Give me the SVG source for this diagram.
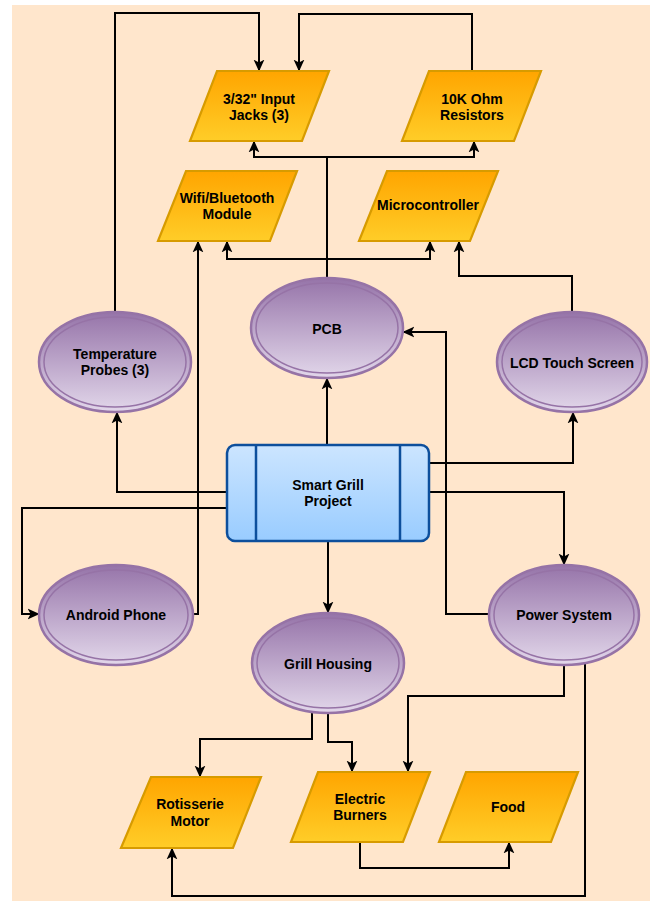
<svg xmlns="http://www.w3.org/2000/svg" width="650" height="901" viewBox="0 0 650 901">
<defs>
<linearGradient id="gOrange" x1="0" y1="0" x2="0" y2="1"><stop offset="0" stop-color="#ffa500"/><stop offset="1" stop-color="#ffcd28"/></linearGradient>
<linearGradient id="gPurple" x1="0" y1="0" x2="0" y2="1"><stop offset="0" stop-color="#9674a9"/><stop offset="1" stop-color="#e2d7ea"/></linearGradient>
<linearGradient id="gBlue" x1="0" y1="0" x2="0" y2="1"><stop offset="0" stop-color="#cce5ff"/><stop offset="1" stop-color="#99ccff"/></linearGradient>
<marker id="arr" viewBox="0 0 10 10" refX="9.5" refY="5" markerWidth="12" markerHeight="12" markerUnits="userSpaceOnUse" orient="auto"><path d="M0,0.5 L10,5 L0,9.5 L2.5,5 Z" fill="#000"/></marker>
</defs>
<style>
.para{fill:url(#gOrange);stroke:#d79b00;stroke-width:2.2}
.ell{fill:url(#gPurple);stroke:#9673a6;stroke-width:2.5}
.ein{fill:none;stroke:#9673a6;stroke-width:1.5}
.proc{fill:url(#gBlue);stroke:#0d4f9c;stroke-width:2.5}
.pl{stroke:#0d4f9c;stroke-width:2.5}
.t{font-family:"Liberation Sans",Arial,sans-serif;font-weight:bold;font-size:14px;fill:#000;text-anchor:middle;dominant-baseline:central}
.c{fill:none;stroke:#000;stroke-width:2;marker-end:url(#arr)}
</style>
<rect x="0" y="0" width="650" height="901" fill="#ffffff"/>
<rect x="12" y="5" width="638" height="896" fill="#ffe6cc"/>
<g id="connectors">
<path class="c" d="M115,312 V13 H259 V71"/>
<path class="c" d="M472,71 V14 H299 V71"/>
<path class="c" d="M327,278 V157 H254 V141"/>
<path class="c" d="M327,157 H474 V141"/>
<path class="c" d="M327,259 H227 V241"/>
<path class="c" d="M327,259 H430 V241"/>
<path class="c" d="M572,312 V276 H459 V241"/>
<path class="c" d="M192,614 H198 V241"/>
<path class="c" d="M327,445 V378"/>
<path class="c" d="M227,492 H117 V412"/>
<path class="c" d="M227,508 H22 V614 H39"/>
<path class="c" d="M429,463 H573 V412"/>
<path class="c" d="M429,492 H564 V565"/>
<path class="c" d="M489,614 H446 V332 H403"/>
<path class="c" d="M328,541 V613"/>
<path class="c" d="M312,712 V739 H200 V777"/>
<path class="c" d="M328,713 V742 H352 V772"/>
<path class="c" d="M564,665 V696 H408 V772"/>
<path class="c" d="M585,662 V896 H172 V848"/>
<path class="c" d="M360,842 V868 H509 V842"/>
</g>
<g id="input-jacks">
<polygon class="para" points="217,71 329,71 302,141 190,141"/>
<text class="t" x="259" y="99">3/32" Input</text>
<text class="t" x="259" y="115">Jacks (3)</text>
</g>
<g id="resistors">
<polygon class="para" points="429,71 541,71 514,141 402,141"/>
<text class="t" x="472" y="99">10K Ohm</text>
<text class="t" x="472" y="115">Resistors</text>
</g>
<g id="wifi">
<polygon class="para" points="186,171 297,171 270,241 158,241"/>
<text class="t" x="227" y="198">Wifi/Bluetooth</text>
<text class="t" x="227" y="214">Module</text>
</g>
<g id="microcontroller">
<polygon class="para" points="387,171 498,171 470,241 359,241"/>
<text class="t" x="428" y="205">Microcontroller</text>
</g>
<g id="temp-probes">
<ellipse class="ell" cx="115" cy="362" rx="76" ry="50"/>
<ellipse class="ein" cx="115" cy="362" rx="71" ry="45"/>
<text class="t" x="115" y="354">Temperature</text>
<text class="t" x="115" y="370">Probes (3)</text>
</g>
<g id="pcb">
<ellipse class="ell" cx="327" cy="328" rx="76" ry="50"/>
<ellipse class="ein" cx="327" cy="328" rx="71" ry="45"/>
<text class="t" x="327" y="329">PCB</text>
</g>
<g id="lcd">
<ellipse class="ell" cx="572" cy="362" rx="75" ry="50"/>
<ellipse class="ein" cx="572" cy="362" rx="70" ry="45"/>
<text class="t" x="572" y="363">LCD Touch Screen</text>
</g>
<g id="smart-grill">
<rect class="proc" x="227" y="445" width="202" height="96" rx="8"/>
<line class="pl" x1="256" y1="445" x2="256" y2="541"/>
<line class="pl" x1="400" y1="445" x2="400" y2="541"/>
<text class="t" x="328" y="485">Smart Grill</text>
<text class="t" x="328" y="501">Project</text>
</g>
<g id="android">
<ellipse class="ell" cx="116" cy="615" rx="77" ry="50"/>
<ellipse class="ein" cx="116" cy="615" rx="72" ry="45"/>
<text class="t" x="116" y="615">Android Phone</text>
</g>
<g id="power">
<ellipse class="ell" cx="564" cy="615" rx="75" ry="50"/>
<ellipse class="ein" cx="564" cy="615" rx="70" ry="45"/>
<text class="t" x="564" y="615">Power System</text>
</g>
<g id="grill-housing">
<ellipse class="ell" cx="328" cy="663" rx="76" ry="50"/>
<ellipse class="ein" cx="328" cy="663" rx="71" ry="45"/>
<text class="t" x="328" y="664">Grill Housing</text>
</g>
<g id="rotisserie">
<polygon class="para" points="151,777 261,777 233,848 121,848"/>
<text class="t" x="190" y="804">Rotisserie</text>
<text class="t" x="190" y="821">Motor</text>
</g>
<g id="burners">
<polygon class="para" points="318,772 430,772 403,842 291,842"/>
<text class="t" x="360" y="799">Electric</text>
<text class="t" x="360" y="815">Burners</text>
</g>
<g id="food">
<polygon class="para" points="466,772 578,772 551,842 439,842"/>
<text class="t" x="508" y="807">Food</text>
</g>
</svg>
